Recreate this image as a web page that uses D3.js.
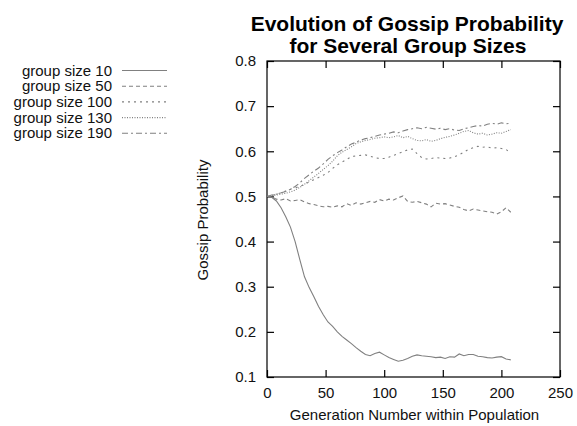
<!DOCTYPE html>
<html><head><meta charset="utf-8">
<script src="https://cdn.jsdelivr.net/npm/d3@7"></script>
<style>body{margin:0;background:#fff;} text{font-family:"Liberation Sans",Arial,sans-serif;}</style>
</head><body><svg id="c" width="577" height="426"></svg>
<script>
const generations = d3.range(0, 209, 4);
const seriesNames = ["group size 10","group size 50","group size 100","group size 130","group size 190"];
const size10 = [0.500,0.498,0.490,0.475,0.455,0.432,0.400,0.360,0.322,0.298,0.278,0.256,0.238,0.222,0.212,0.200,0.190,0.182,0.174,0.165,0.157,0.150,0.147,0.152,0.155,0.149,0.143,0.139,0.135,0.137,0.141,0.146,0.149,0.147,0.146,0.145,0.143,0.144,0.141,0.145,0.144,0.151,0.147,0.150,0.150,0.146,0.145,0.143,0.142,0.144,0.145,0.140,0.138];
const size50 = [0.500,0.499,0.494,0.492,0.495,0.490,0.491,0.493,0.488,0.484,0.482,0.479,0.477,0.478,0.476,0.479,0.477,0.484,0.480,0.486,0.483,0.486,0.489,0.487,0.493,0.490,0.494,0.492,0.497,0.501,0.489,0.487,0.489,0.486,0.483,0.477,0.485,0.483,0.484,0.481,0.478,0.476,0.471,0.468,0.472,0.470,0.468,0.466,0.465,0.461,0.466,0.475,0.465];
const size100 = [0.500,0.502,0.505,0.508,0.512,0.516,0.519,0.522,0.527,0.532,0.537,0.542,0.547,0.553,0.562,0.570,0.576,0.582,0.588,0.590,0.591,0.592,0.589,0.586,0.584,0.584,0.587,0.591,0.595,0.599,0.603,0.605,0.595,0.586,0.583,0.584,0.586,0.585,0.584,0.585,0.588,0.592,0.598,0.604,0.608,0.611,0.609,0.610,0.607,0.608,0.606,0.604,0.596];
const size130 = [0.500,0.502,0.503,0.505,0.507,0.510,0.514,0.520,0.527,0.535,0.543,0.551,0.560,0.568,0.578,0.590,0.598,0.604,0.610,0.617,0.621,0.624,0.626,0.629,0.630,0.632,0.630,0.632,0.635,0.630,0.633,0.628,0.624,0.623,0.626,0.622,0.624,0.628,0.631,0.633,0.636,0.640,0.644,0.646,0.641,0.638,0.640,0.636,0.638,0.641,0.640,0.644,0.648];
const size190 = [0.500,0.503,0.505,0.508,0.511,0.516,0.522,0.530,0.540,0.548,0.556,0.563,0.572,0.582,0.590,0.597,0.603,0.610,0.616,0.620,0.625,0.628,0.630,0.633,0.636,0.638,0.640,0.643,0.641,0.645,0.648,0.650,0.652,0.650,0.653,0.651,0.649,0.651,0.648,0.650,0.647,0.646,0.650,0.652,0.655,0.657,0.656,0.660,0.662,0.660,0.663,0.661,0.662];
const xTicks = [0,50,100,150,200,250];
const yTicks = [0.1,0.2,0.3,0.4,0.5,0.6,0.7,0.8];
const dashes = [null,"4,3","2,4","1,1.5","6,3,2,3"];
const allSeries = [size10,size50,size100,size130,size190];

const svg = d3.select("#c");
const L=267, R=560, T=61, B=377;
const x = d3.scaleLinear().domain([0,250]).range([L,R]);
const y = d3.scaleLinear().domain([0.1,0.8]).range([B,T]);

svg.append("rect").attr("x",L).attr("y",T).attr("width",R-L).attr("height",B-T)
  .attr("fill","none").attr("stroke","#000").attr("stroke-width",1.2);

const tl=7;
const g = svg.append("g");
g.append("g").attr("transform",`translate(0,${B})`)
  .call(d3.axisBottom(x).tickValues(xTicks).tickSizeInner(-tl).tickSizeOuter(0).tickPadding(10).tickFormat(d3.format("d")))
  .call(a=>a.select(".domain").remove());
g.append("g").attr("transform",`translate(0,${T})`)
  .call(d3.axisTop(x).tickValues(xTicks).tickSizeInner(-tl).tickSizeOuter(0).tickFormat(""))
  .call(a=>a.select(".domain").remove());
g.append("g").attr("transform",`translate(${L},0)`)
  .call(d3.axisLeft(y).tickValues(yTicks).tickSizeInner(-tl).tickSizeOuter(0).tickPadding(11).tickFormat(d3.format(".1f")))
  .call(a=>a.select(".domain").remove());
g.append("g").attr("transform",`translate(${R},0)`)
  .call(d3.axisRight(y).tickValues(yTicks).tickSizeInner(-tl).tickSizeOuter(0).tickFormat(""))
  .call(a=>a.select(".domain").remove());
g.selectAll(".tick line").attr("stroke","#000").attr("stroke-width",1.2);
g.selectAll(".tick text").attr("font-size",15).attr("fill","#111")
  .style("font-family","'Liberation Sans',Arial,sans-serif");

const line = d3.line().x((d,i)=>x(generations[i])).y(d=>y(d));
allSeries.forEach((s,i)=>{
  svg.append("path").attr("d",line(s)).attr("fill","none")
    .attr("stroke","#808080").attr("stroke-width",1.1)
    .attr("stroke-dasharray",dashes[i]);
});

seriesNames.forEach((n,i)=>{
  const yy = 70.5 + i*15.7;
  svg.append("text").attr("x",112).attr("y",yy+5).attr("text-anchor","end")
    .attr("font-size",15).attr("fill","#111").text(n);
  svg.append("line").attr("x1",122).attr("x2",167).attr("y1",yy).attr("y2",yy)
    .attr("stroke","#808080").attr("stroke-width",1.1).attr("stroke-dasharray",dashes[i]);
});

svg.append("text").attr("x",407).attr("y",31).attr("text-anchor","middle")
  .attr("font-size",21).attr("font-weight","bold").attr("fill","#000").text("Evolution of Gossip Probability");
svg.append("text").attr("x",408).attr("y",53).attr("text-anchor","middle")
  .attr("font-size",21).attr("font-weight","bold").attr("fill","#000").text("for Several Group Sizes");
svg.append("text").attr("x",(L+R)/2+1).attr("y",420).attr("text-anchor","middle")
  .attr("font-size",15).attr("fill","#111").text("Generation Number within Population");
svg.append("text").attr("transform",`translate(208,${(T+B)/2+1}) rotate(-90)`).attr("text-anchor","middle")
  .attr("font-size",15).attr("fill","#111").text("Gossip Probability");
</script></body></html>
